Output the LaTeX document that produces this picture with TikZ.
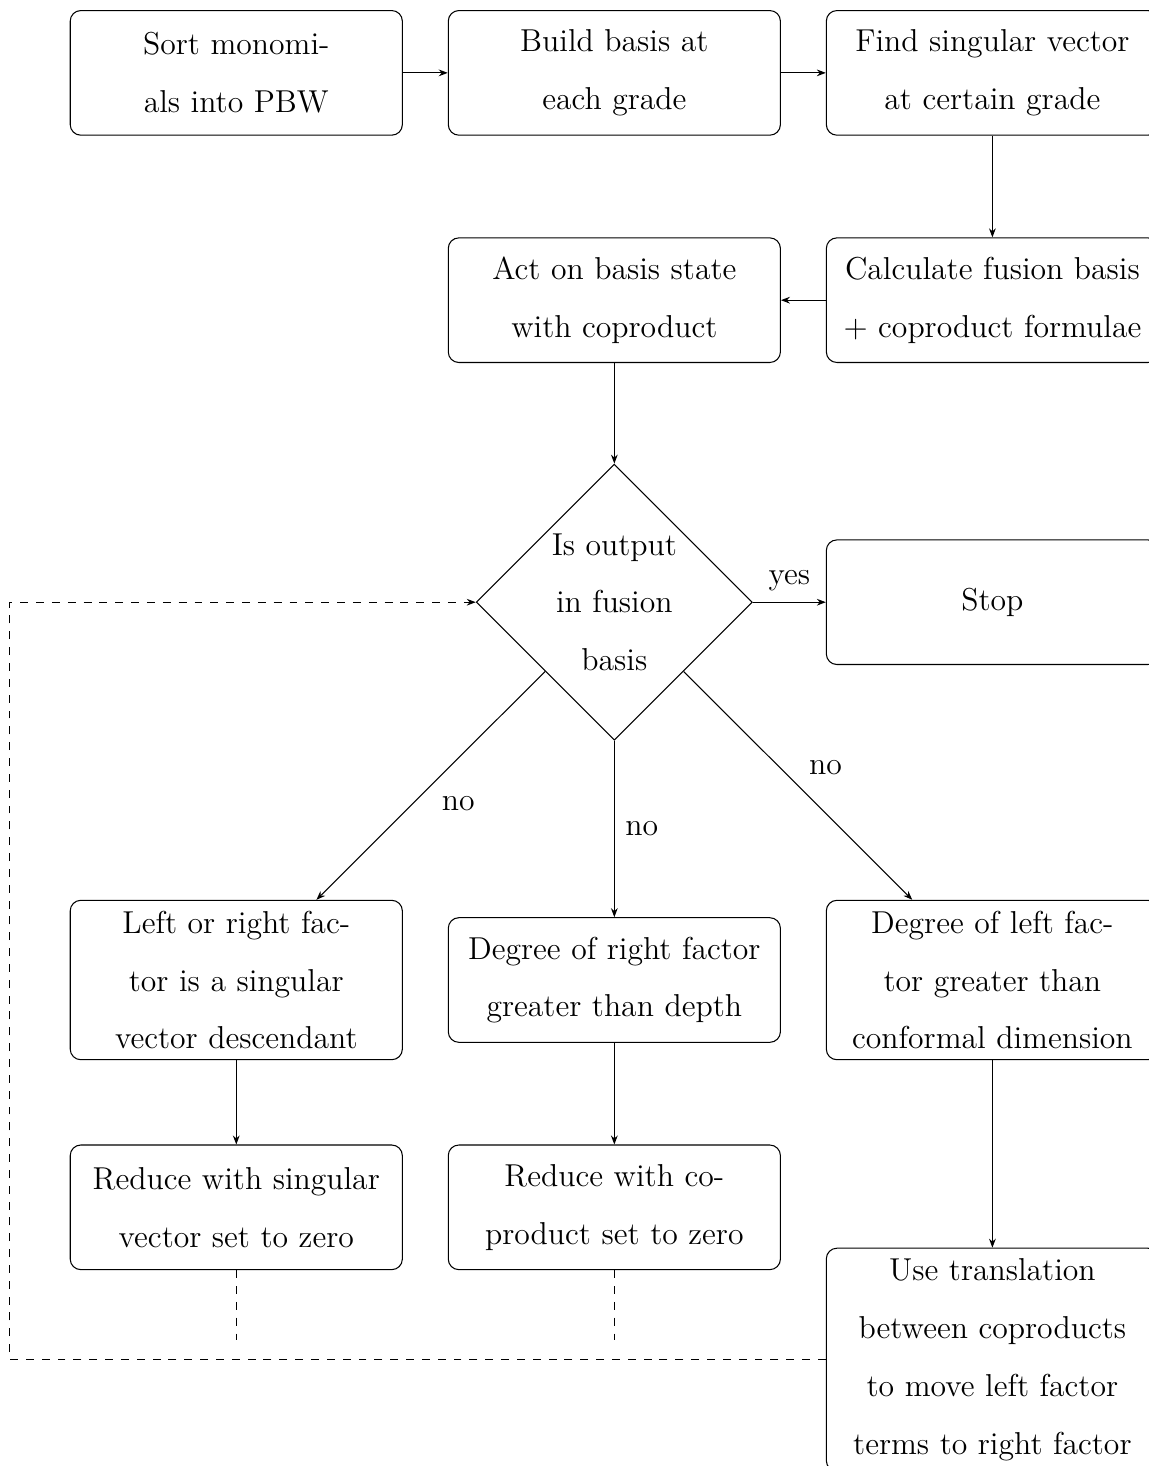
\documentclass[12pt,tikz,border=0pt]{standalone}
\usetikzlibrary{positioning, arrows.meta, shapes.geometric, calc}

\begin{document}
\begin{tikzpicture}[font=\fontsize{12}{21.9}\selectfont, node distance=17pt,
    procbox/.style={draw, rounded corners, text width=117.8pt, align=center, minimum height=47.2pt},
    choice/.style={draw, diamond, aspect=1, text width=50pt, align=flush center, inner sep=0pt,
      minimum width=104.6pt, minimum height=104.6pt},
    flow/.style={-{Stealth[length=3.4pt]}}]
    \node[procbox] (sort) {Sort monomials into PBW};
    \node[procbox, right=of sort] (build) {Build basis at each grade};
    \node[procbox, right=of build] (find) {Find singular vector at certain grade};
    \node[procbox, below=38.5pt of find] (calc) {Calculate fusion basis + coproduct formulae};
    \node[procbox, left=of calc] (act) {Act on basis state with coproduct};
    \node[choice, below=38.1pt of act] (test) {Is output in fusion basis};
    \node[procbox] (stop) at (calc |- test) {Stop};

    \node[procbox, below=66.8pt of test] (mid) {Degree of right factor greater than depth};
    \node[procbox, left=of mid] (lfac) {Left or right factor is a singular vector descendant};
    \node[procbox, right=of mid] (rfac) {Degree of left factor greater than conformal dimension};
    \node[procbox, below=38.5pt of mid] (redcop) {Reduce with coproduct set to zero};
    \node[procbox, left=of redcop] (redsing) {Reduce with singular vector set to zero};
    \node[procbox, below=71pt of rfac] (transl) {Use translation between coproducts to move left factor terms to right factor};

    \draw[flow] (sort) -- (build);
    \draw[flow] (build) -- (find);
    \draw[flow] (find) -- (calc);
    \draw[flow] (calc) -- (act);
    \draw[flow] (act) -- (test);
    \draw[flow] (test) -- node[above] {yes} (stop);
    \draw[flow] (test.south west) -- node[auto] {no} (lfac);
    \draw[flow] (test) -- node[auto] {no} (mid);
    \draw[flow] (test.south east) -- node[auto] {no} (rfac);
    \draw[flow] (lfac) -- (redsing);
    \draw[flow] (mid) -- (redcop);
    \draw[flow] (rfac) -- (transl);

    % loop back to the test
    \coordinate[below=26.4pt of redsing.south] (endsing);
    \coordinate[below=26.4pt of redcop.south] (endcop);
    \coordinate (back) at ($(lfac.west |- transl.west) + (-22.7pt,0)$);
    \draw[dashed] (redsing) -- (endsing);
    \draw[dashed] (redcop) -- (endcop);
    \draw[dashed, flow] (transl) -- (back) |- (test.west);

    \pgfresetboundingbox
    \path[use as bounding box] ($(sort.north west)+(-26.4pt,3.8pt)$) rectangle ($(transl.north west)+(122.4pt,-82.7pt)$);
\end{tikzpicture}
\end{document}
